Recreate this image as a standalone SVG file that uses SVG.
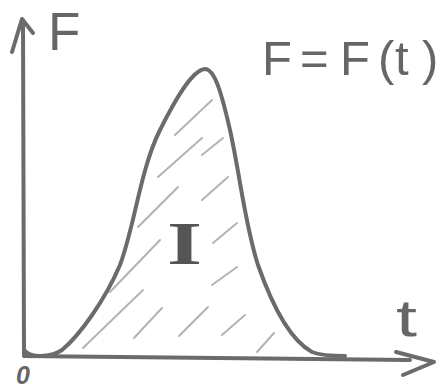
<svg xmlns="http://www.w3.org/2000/svg" width="438" height="389" viewBox="0 0 438 389">
<style>
.ink{fill:none;stroke:#6b6b6b;stroke-width:4;stroke-linecap:round;stroke-linejoin:round}
.hatch{fill:none;stroke:#b3b3b3;stroke-width:2;stroke-linecap:round}
.lbl{font-family:"Liberation Sans",Arial,sans-serif;fill:#666}
</style>
<rect width="438" height="389" fill="#ffffff"/>
<g id="connectors">
  <g id="y-axis">
    <path class="ink" d="M24,355 L23,20"/>
    <path class="ink" d="M12,52 L22,19 L33,33"/>
  </g>
  <g id="x-axis">
    <path class="ink" d="M24,356 L410,360"/>
    <path class="ink" d="M396,352 L434,362 L403,375"/>
  </g>
</g>
<g id="hatching">
  <path class="hatch" d="M175,135 L212,100"/>
  <path class="hatch" d="M158,177 L202,138"/>
  <path class="hatch" d="M202,155 L223,138"/>
  <path class="hatch" d="M138,227 L178,187"/>
  <path class="hatch" d="M202,200 L228,177"/>
  <path class="hatch" d="M110,292 L160,240"/>
  <path class="hatch" d="M213,243 L237,223"/>
  <path class="hatch" d="M83,348 L143,290"/>
  <path class="hatch" d="M212,285 L237,267"/>
  <path class="hatch" d="M134,338 L162,308"/>
  <path class="hatch" d="M179,336 L208,307"/>
  <path class="hatch" d="M222,335 L245,315"/>
  <path class="hatch" d="M257,352 L274,333"/>
</g>
<g id="curve">
  <path class="ink" d="M24,350 C30,358 50,358 62,350 C80,335 105,300 120,265 C135,225 140,170 160,130 C175,100 192,70 205,69 C215,69 222,95 230,130 C240,175 245,225 258,265 C272,305 290,340 312,352 C322,356 335,356 345,356"/>
</g>
<g id="label-F">
  <text class="lbl" x="48" y="50" font-size="53">F</text>
</g>
<g id="label-equation">
  <text class="lbl" y="75" font-size="49" x="262 300 340 378 395 422">F=F(t)</text>
</g>
<g id="label-t">
  <text class="lbl" x="396" y="336" font-size="52" textLength="21" lengthAdjust="spacingAndGlyphs">t</text>
</g>
<g id="label-I">
  <text x="167" y="264" font-family="'Liberation Serif','Times New Roman',serif" font-size="62" font-weight="bold" fill="#555" textLength="35" lengthAdjust="spacingAndGlyphs">I</text>
</g>
<g id="label-0">
  <text class="lbl" x="16" y="384" font-size="25" font-style="italic" font-weight="bold">0</text>
</g>
</svg>
